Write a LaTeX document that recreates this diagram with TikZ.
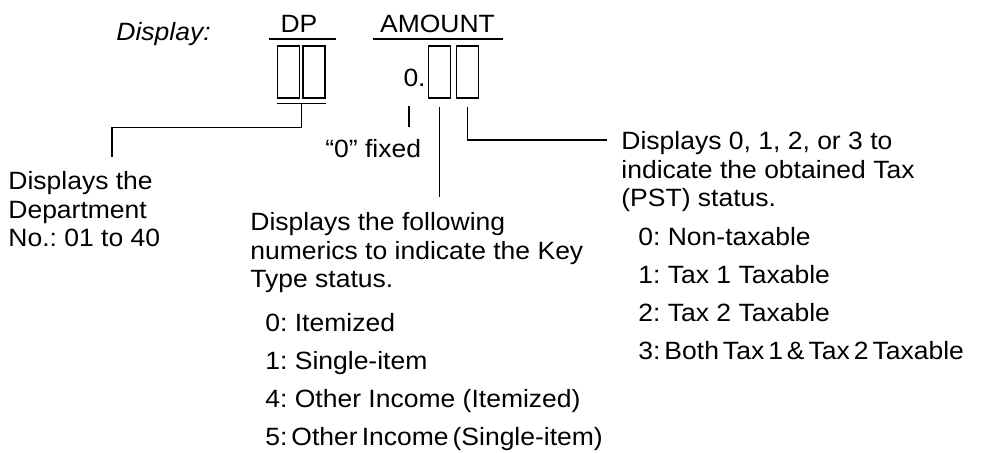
\documentclass[tikz,border=0pt]{standalone}
\usepackage{fontspec}
\setmainfont{Liberation Sans}[FakeStretch=1.06]
\usetikzlibrary{positioning,calc}
\frenchspacing
\newcommand\panelfont{\fontsize{12.5}{14.25}\selectfont}
\newcommand\tightsp{\spaceskip=0.16em\relax}
\tikzset{
 lcd/.style={draw, line width=0.6pt, minimum width=11pt, minimum height=26pt, inner sep=0pt},
 txt/.style={font=\panelfont, inner sep=0pt, anchor=base west},
 para/.style={font=\panelfont, inner sep=0pt, anchor=north west, align=left},
 lead/.style={line width=0.6pt}
}

\begin{document}
\begin{tikzpicture}[x=0.5pt,y=-0.5pt]
\useasboundingbox (0,0) rectangle (982,453);
% header of the display
\node[txt] (disp) at (116,41) {\itshape Display:};
\node[txt,anchor=base] (dptxt) at (299,33) {DP};
\node[txt,anchor=base] (amtxt) at (437.5,33) {AMOUNT};
\draw[lead] ($(dptxt.base)+(-30,6)$) -- ($(dptxt.base)+(37,6)$);
\draw[lead] ($(amtxt.base)+(-65,6)$) -- ($(amtxt.base)+(65,6)$);
% digit boxes
\node[lcd] (dp1) at (288.5,72) {};
\node[lcd] (dp2) at (314,72) {};
\node[lcd] (am1) at (439.5,72) {};
\node[lcd] (am2) at (467.5,72) {};
\node[txt,anchor=base east] (zero) at (426,87) {0.};
\draw[lead] ([yshift=-2.5pt]dp1.south west) -- ([yshift=-2.5pt]dp2.south east);
% texts
\node[para] (deptxt) at (8,171) {Displays the\\Department\\No.: 01 to 40};
\node[txt] (fixed) at (325,158) {“0” fixed};
\node[para] (keytxt) at (250,212) {Displays the following\\numerics to indicate the Key\\Type status.};
\node[para] (taxtxt) at (621,131) {Displays 0, 1, 2, or 3 to\\indicate the obtained Tax\\(PST) status.};
\foreach \t [count=\i] in {0: Itemized, 1: Single-item, 4: Other Income (Itemized), \tightsp 5: Other Income (Single-item)}
 \node[txt] (keyitem\i) at (265,{294+38*\i}) {\t};
\foreach \t [count=\i] in {0: Non-taxable, 1: Tax 1 Taxable, 2: Tax 2 Taxable, \tightsp 3: Both Tax 1 \& Tax 2 Taxable}
 \node[txt] (taxitem\i) at (638,{208+38*\i}) {\t};
% leaders
\coordinate (dpbar) at ($(dp1.south east)!0.5!(dp2.south west)+(0,5)$);
\coordinate (deplink) at ($(deptxt.north west)+(104,-14)$);
\draw[lead] (dpbar) -- ++(0,24) -| (deplink);
\coordinate (ticktop) at ($(fixed.base west)+(84,-52)$);
\draw[lead] (ticktop) -- ++(0,21);
\draw[lead] ([yshift=-4pt]am1.south) -- ($(keytxt.north west -| am1.south)+(0,-15)$);
\draw[lead] ([yshift=-4pt]am2.south) |- ($(taxtxt.north west)+(-14,9)$);
\end{tikzpicture}
\end{document}
